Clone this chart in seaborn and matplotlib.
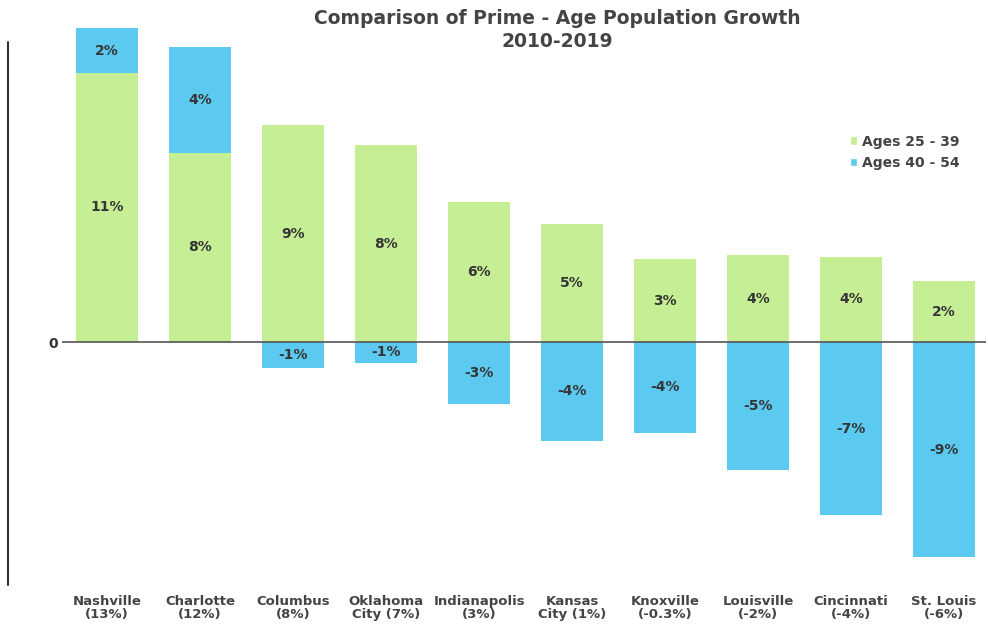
import matplotlib
matplotlib.use("Agg")
import matplotlib.pyplot as plt
from matplotlib.lines import Line2D
from matplotlib.patches import Patch
import seaborn as sns
import pandas as pd

cities = ["Nashville\n(13%)", "Charlotte\n(12%)", "Columbus\n(8%)", "Oklahoma\nCity (7%)",
          "Indianapolis\n(3%)", "Kansas\nCity (1%)", "Knoxville\n(-0.3%)", "Louisville\n(-2%)",
          "Cincinnati\n(-4%)", "St. Louis\n(-6%)"]
ages_25_39 = [11.07, 7.78, 8.93, 8.1, 5.76, 4.86, 3.4, 3.58, 3.5, 2.5]
ages_40_54 = [1.85, 4.36, -1.07, -0.86, -2.55, -4.07, -3.74, -5.27, -7.12, -8.85]
labels_25_39 = ["11%", "8%", "9%", "8%", "6%", "5%", "3%", "4%", "4%", "2%"]
labels_40_54 = ["2%", "4%", "-1%", "-1%", "-3%", "-4%", "-4%", "-5%", "-7%", "-9%"]

green = "#c6ef95"
blue = "#5bc9f0"
txt = "#353535"

sns.set_theme(style="white")
plt.rcParams["font.family"] = ["DejaVu Sans"]

df = pd.DataFrame({"city": cities, "g": ages_25_39, "b": ages_40_54})
df["b_top"] = [g + b if b > 0 else b for g, b in zip(df["g"], df["b"])]

fig = plt.figure(figsize=(9.88, 6.35), dpi=100)
W, H = 988, 635
ax = fig.add_axes([62 / W, 1 - 585 / H, (986 - 62) / W, (585 - 20) / H])

sns.barplot(data=df, x="city", y="b_top", order=cities, color=blue, width=0.66,
            saturation=1, ax=ax, edgecolor="none")
sns.barplot(data=df, x="city", y="g", order=cities, color=green, width=0.66,
            saturation=1, ax=ax, edgecolor="none")

for i, (g, b, lg, lb) in enumerate(zip(ages_25_39, ages_40_54, labels_25_39, labels_40_54)):
    ax.text(i, g / 2, lg, ha="center", va="center", fontsize=10, fontweight="bold", color=txt)
    yb = g + b / 2 if b > 0 else b / 2
    ax.text(i, yb, lb, ha="center", va="center", fontsize=10, fontweight="bold", color=txt)

ax.set_xlim(-0.484, 9.45)
ax.set_ylim(-(585 - 342) / 24.3, (342 - 20) / 24.3)
ax.axhline(0, color="#555555", lw=1.2, zorder=5)
for s in ax.spines.values():
    s.set_visible(False)
ax.set_yticks([0])
ax.set_yticklabels(["0"], fontsize=10, fontweight="bold", color=txt)
ax.tick_params(axis="y", length=0, pad=3)
ax.tick_params(axis="x", length=0, pad=7)
ax.set_xlabel("")
ax.set_ylabel("")
for t in ax.get_xticklabels():
    t.set_fontsize(9.5)
    t.set_fontweight("bold")
    t.set_color("#444444")
    t.set_linespacing(1.05)

fig.add_artist(Line2D([8 / W, 8 / W], [1 - 42 / H, 1 - 585 / H], color="#333333", lw=1.5))

fig.text(557 / W, 1 - 30 / H, "Comparison of Prime - Age Population Growth\n2010-2019",
         ha="center", va="center", fontsize=13.5, fontweight="bold", color="#444444",
         linespacing=1.3)

handles = [Patch(facecolor=green, label="Ages 25 - 39"), Patch(facecolor=blue, label="Ages 40 - 54")]
fig.legend(handles=handles, loc="upper left", bbox_to_anchor=(844 / W, 1 - 129 / H),
           frameon=False, prop={"weight": "bold", "size": 10}, handlelength=0.55,
           handleheight=0.55, handletextpad=0.35, labelspacing=0.55, labelcolor="#444444",
           borderaxespad=0)

fig.savefig("out.png", dpi=100)
